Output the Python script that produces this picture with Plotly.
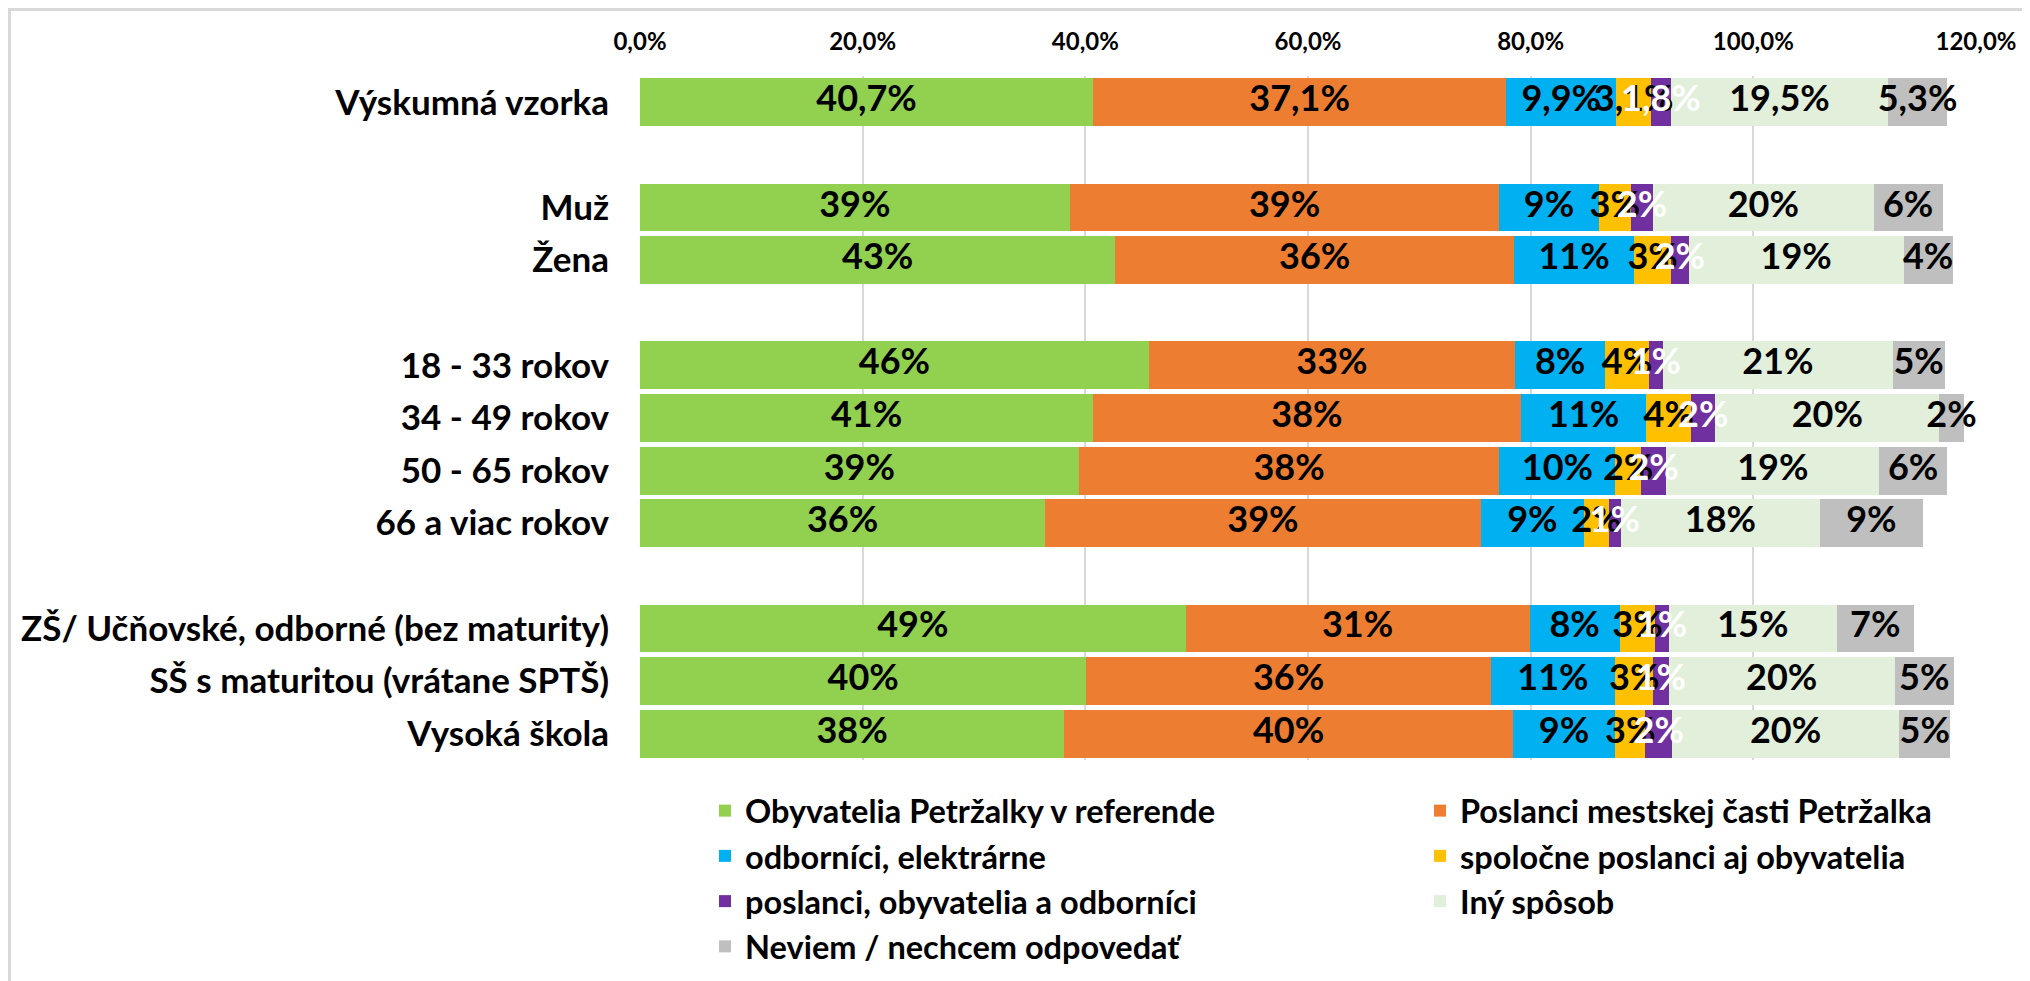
import numpy as np
import plotly.graph_objects as go

# categories top to bottom; the blank entries are the empty rows between groups
categories = [
    "Výskumná vzorka",
    "Muž", "Žena",
    "18 - 33 rokov", "34 - 49 rokov", "50 - 65 rokov", "66 a viac rokov",
    "ZŠ/ Učňovské, odborné (bez maturity)", "SŠ s maturitou (vrátane SPTŠ)", "Vysoká škola",
]
axis_rows = [
    "Výskumná vzorka", " ",
    "Muž", "Žena", "  ",
    "18 - 33 rokov", "34 - 49 rokov", "50 - 65 rokov", "66 a viac rokov", "   ",
    "ZŠ/ Učňovské, odborné (bez maturity)", "SŠ s maturitou (vrátane SPTŠ)", "Vysoká škola",
]
label_decimals = [1, 0, 0, 0, 0, 0, 0, 0, 0, 0]

series_names = [
    "Obyvatelia Petržalky v referende",
    "Poslanci mestskej časti Petržalka",
    "odborníci, elektrárne",
    "spoločne poslanci aj obyvatelia",
    "poslanci, obyvatelia a odborníci",
    "Iný spôsob",
    "Neviem / nechcem odpovedať",
]
obyvatelia = [40.7, 38.6, 42.7, 45.7, 40.7, 39.4, 36.4, 49.0, 40.1, 38.1]
poslanci = [37.1, 38.6, 35.8, 32.9, 38.4, 37.8, 39.1, 30.9, 36.3, 40.3]
odbornici = [9.9, 8.9, 10.8, 8.1, 11.3, 10.4, 9.3, 8.1, 11.2, 9.2]
spolocne = [3.1, 2.9, 3.3, 3.9, 4.0, 2.3, 2.2, 3.2, 3.4, 2.7]
vsetci = [1.8, 2.0, 1.6, 1.3, 2.2, 2.3, 1.1, 1.2, 1.4, 2.4]
iny = [19.5, 19.8, 19.3, 20.6, 20.1, 19.1, 17.9, 15.1, 20.3, 20.4]
neviem = [5.3, 6.2, 4.4, 4.7, 2.2, 6.1, 9.2, 6.9, 5.3, 4.6]
series_values = [obyvatelia, poslanci, odbornici, spolocne, vsetci, iny, neviem]

colors = ["#92D050", "#ED7D31", "#00B0F0", "#FFC000", "#7030A0", "#E2EFDA", "#BFBFBF"]
label_colors = ["black", "black", "black", "black", "white", "black", "black"]
legend_of = ["legend", "legend2", "legend", "legend2", "legend", "legend2", "legend"]

tick_vals = [0, 20, 40, 60, 80, 100, 120]

FONT = "Lato"
W, H = 2030, 981
PAGE_OFF = 8  # the page body adds 8px around the plot div
ML, MR, MT, MB = 632, 62, 68, 229
PW, PH = W - ML - MR, H - MT - MB


def px_x(x):
    # page pixel -> paper x
    return (x - PAGE_OFF - ML) / PW


def px_y(y):
    # page pixel -> paper y
    return (H - MB - (y - PAGE_OFF)) / PH


def fmt(v, d):
    return f"{v:.{d}f}".replace(".", ",") + "%"


fig = go.Figure()
vals = np.array(series_values)
starts = np.vstack([np.zeros(vals.shape[1]), np.cumsum(vals, axis=0)[:-1]])

for i, name in enumerate(series_names):
    fig.add_trace(go.Bar(
        y=categories, x=series_values[i], name=name, orientation="h",
        marker=dict(color=colors[i], line=dict(width=0)),
        legend=legend_of[i], hoverinfo="x+name",
    ))

# data labels go on top of all bars, as in the original
for i, name in enumerate(series_names):
    mids = starts[i] + vals[i] / 2
    fig.add_trace(go.Scatter(
        y=categories, x=mids, mode="text",
        text=[fmt(v, d) for v, d in zip(series_values[i], label_decimals)],
        textposition="middle center",
        textfont=dict(family=FONT, size=36, color=label_colors[i], weight="bold"),
        showlegend=False, hoverinfo="skip", cliponaxis=False,
    ))

legend_font = dict(family=FONT, size=32.5, color="black", weight="bold")
fig.update_layout(
    width=W, height=H,
    margin=dict(l=ML, r=MR, t=MT, b=MB, autoexpand=False),
    barmode="stack", bargap=0.09,
    plot_bgcolor="white", paper_bgcolor="white",
    font=dict(family=FONT, color="black", weight="bold"),
    legend=dict(x=px_x(705), y=px_y(783), xanchor="left", yanchor="top",
                orientation="v", font=legend_font, itemwidth=30,
                traceorder="normal"),
    legend2=dict(x=px_x(1420), y=px_y(783), xanchor="left", yanchor="top",
                 orientation="v", font=legend_font, itemwidth=30,
                 traceorder="normal"),
    xaxis=dict(
        side="top", range=[0, 120], tickvals=tick_vals,
        ticktext=[fmt(v, 1) for v in tick_vals],
        tickfont=dict(family=FONT, size=24, color="black", weight="bold"),
        showgrid=True, gridcolor="#D9D9D9", gridwidth=2,
        zeroline=False, showline=False, ticks="", ticklabelstandoff=20,
    ),
    yaxis=dict(
        type="category", categoryorder="array", categoryarray=axis_rows,
        range=[len(axis_rows) - 0.5, -0.5],
        tickfont=dict(family=FONT, size=35, color="black", weight="bold"),
        showgrid=False, zeroline=False, showline=False, ticks="",
        ticklabelstandoff=30,
    ),
    shapes=[dict(
        type="rect", xref="paper", yref="paper",
        x0=px_x(9.5), x1=px_x(W + 20), y0=px_y(H + 20), y1=px_y(9.5),
        line=dict(color="#D9D9D9", width=3), fillcolor="rgba(0,0,0,0)",
        layer="below",
    )],
)

fig.write_html("out.html")
